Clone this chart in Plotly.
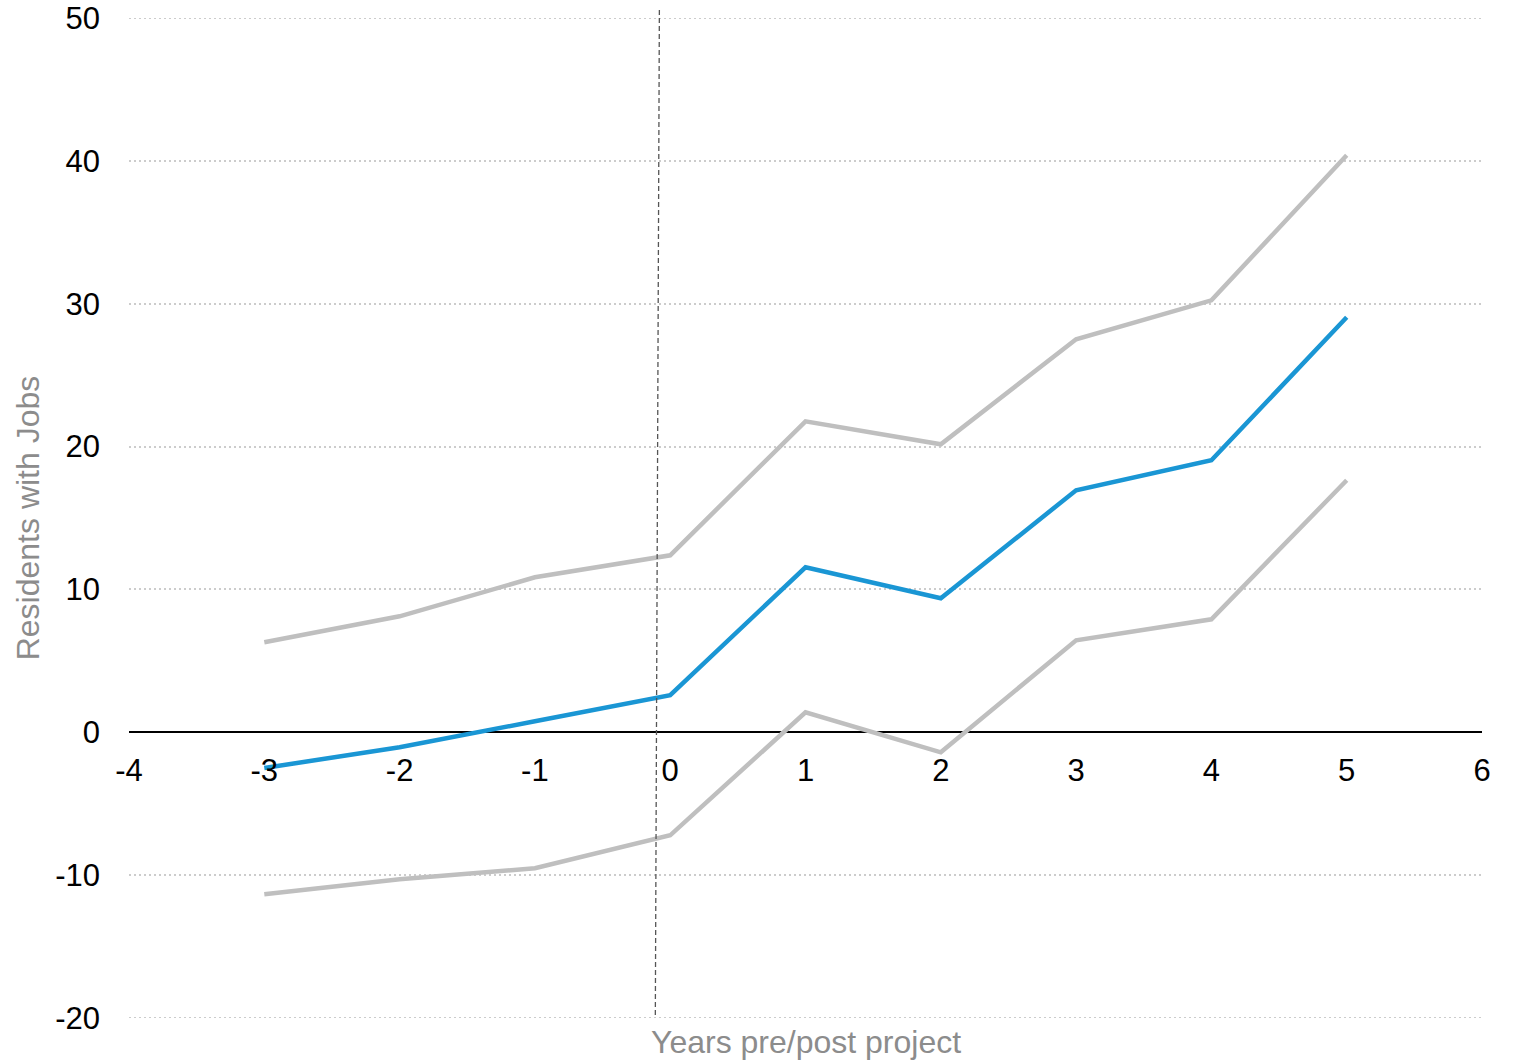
import plotly.graph_objects as go

# Event-study estimates with confidence bounds
years = [-3, -2, -1, 0, 1, 2, 3, 4, 5]
estimate = [-2.5, -1.05, 0.77, 2.6, 11.55, 9.38, 16.94, 19.04, 29.05]
upper_bound = [6.3, 8.12, 10.85, 12.39, 21.77, 20.16, 27.51, 30.24, 40.39]
lower_bound = [-11.34, -10.29, -9.52, -7.21, 1.4, -1.4, 6.44, 7.91, 17.64]

x_ticks = [-4, -3, -2, -1, 0, 1, 2, 3, 4, 5, 6]
y_ticks = [-20, -10, 0, 10, 20, 30, 40, 50]

FONT = "Liberation Sans, Arial, sans-serif"
GREY_LINE = "#bfbfbf"
BLUE_LINE = "#1a96d4"
GRID = "#cccccc"

fig = go.Figure()
for vals in (upper_bound, lower_bound):
    fig.add_trace(go.Scatter(x=years, y=vals, mode="lines",
                             line=dict(color=GREY_LINE, width=4.5),
                             showlegend=False, hoverinfo="skip"))
fig.add_trace(go.Scatter(x=years, y=estimate, mode="lines",
                         line=dict(color=BLUE_LINE, width=4.5),
                         showlegend=False))

# gridlines on the range edges
for yv in (y_ticks[0], y_ticks[-1]):
    fig.add_shape(type="line", xref="paper", yref="y", x0=0, x1=1, y0=yv, y1=yv,
                  line=dict(color=GRID, width=2, dash="2px,3px"), layer="below")

# project start marker (extends slightly above the plot top)
fig.add_shape(type="line", xref="x", yref="paper",
              x0=-0.08, y0=1.008, x1=-0.11, y1=0,
              line=dict(color="#555555", width=1.3, dash="5px,3px"))

fig.update_layout(
    width=1516, height=1061,
    margin=dict(l=129, r=34, t=18, b=43),
    plot_bgcolor="white", paper_bgcolor="white",
    font=dict(family=FONT, size=31, color="black"),
    xaxis=dict(range=[-4, 6], tickvals=x_ticks, ticktext=[str(v) for v in x_ticks],
               showgrid=False, zeroline=False, showline=False,
               anchor="free", position=20 / 70, ticks="",
               ticklabelstandoff=17, automargin=False,
               tickfont=dict(size=31, color="black")),
    yaxis=dict(range=[-20, 50], tickvals=y_ticks, ticktext=[str(v) for v in y_ticks],
               showgrid=True, gridcolor=GRID, griddash="2px,3px", gridwidth=2,
               zeroline=True, zerolinecolor="black", zerolinewidth=2,
               showline=False, ticks="", ticklabelstandoff=28,
               automargin=False,
               tickfont=dict(size=31, color="black"),
               title=dict(text="Residents with Jobs", standoff=5,
                          font=dict(size=32, color="#8c8c8c"))),
)

fig.add_annotation(text="Years pre/post project", xref="x", yref="paper",
                   x=1, y=0, yshift=-4, yanchor="top", showarrow=False,
                   font=dict(size=32, color="#8c8c8c"))

fig.write_html("out.html")
